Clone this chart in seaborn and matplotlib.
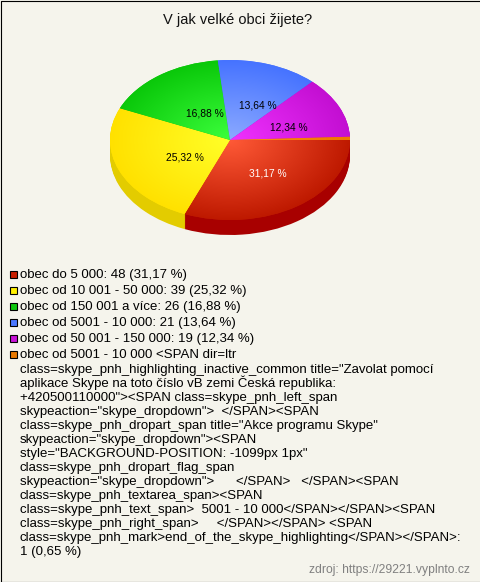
import numpy as np
import seaborn as sns
import matplotlib.pyplot as plt
from matplotlib.patches import Rectangle

title = "V jak velké obci žijete?"
source = "zdroj: https://29221.vyplnto.cz"

categories = [
    "obec do 5 000",
    "obec od 10 001 - 50 000",
    "obec od 150 001 a více",
    "obec od 5001 - 10 000",
    "obec od 50 001 - 150 000",
]
counts = [48, 39, 26, 21, 19, 1]
percents = ["31,17 %", "25,32 %", "16,88 %", "13,64 %", "12,34 %", "0,65 %"]

# the last answer is a broken html string, wrapped like in the original
long_label = [
    'obec od 5001 - 10 000 <SPAN dir=ltr',
    'class=skype_pnh_highlighting_inactive_common title="Zavolat pomocí',
    'aplikace Skype na toto číslo vB zemi Česká republika:',
    '+420500110000"><SPAN class=skype_pnh_left_span',
    'skypeaction="skype_dropdown">  </SPAN><SPAN',
    'class=skype_pnh_dropart_span title="Akce programu Skype"',
    'skypeaction="skype_dropdown"><SPAN',
    'style="BACKGROUND-POSITION: -1099px 1px"',
    'class=skype_pnh_dropart_flag_span',
    'skypeaction="skype_dropdown">      </SPAN>   </SPAN><SPAN',
    'class=skype_pnh_textarea_span><SPAN',
    'class=skype_pnh_text_span>  5001 - 10 000</SPAN></SPAN><SPAN',
    'class=skype_pnh_right_span>     </SPAN></SPAN> <SPAN',
    'class=skype_pnh_mark>end_of_the_skype_highlighting</SPAN></SPAN>:',
    '1 (0,65 %)',
]

BG = "#F5F4EC"
SWATCH = ["#C81E00", "#FFF000", "#0FC80F", "#4B78FF", "#C814D7", "#E87800"]
INNER = ["#FF5A37", "#FFFF28", "#3CFF3C", "#8CAAFF", "#F032FF", "#FF8C14"]
OUTER = ["#BE1900", "#FFE100", "#0AC80A", "#4673FF", "#C30FD2", "#F07800"]
SIDE = ["#A80000", "#E3CC00", "#0A9000", "#3050C0", "#900090", "#C06000"]

# pie geometry in pixels
CX, CY = 230, 140
RX, RY = 120, 80
DEPTH = 15


def draw_pie(ax):
    # side wall, stacked copies of the pie going down
    for k in range(DEPTH, 0, -1):
        ax.pie(counts, colors=SIDE, startangle=0, counterclock=False,
               center=(0, -k / RY), radius=1, wedgeprops={"linewidth": 0})

    wedges, _ = ax.pie(counts, colors=OUTER, startangle=0, counterclock=False,
                       center=(0, 0), radius=1, wedgeprops={"linewidth": 0})

    # radial shading on every slice
    u, v = np.meshgrid(np.linspace(-1, 1, 400), np.linspace(-1, 1, 400))
    r = np.sqrt(u ** 2 + v ** 2)
    for wedge, inner, outer in zip(wedges, INNER, OUTER):
        cmap = sns.blend_palette([inner, outer], as_cmap=True)
        im = ax.imshow(r, extent=(-1, 1, -1, 1), origin="lower", cmap=cmap,
                       vmin=0, vmax=1, aspect="auto", zorder=3)
        im.set_clip_path(wedge)

    ax.set_aspect("auto")
    ax.set_xlim(-CX / RX, (480 - CX) / RX)
    ax.set_ylim((CY - 582) / RY, CY / RY)
    ax.axis("off")


def draw_texts(ax):
    ax.set_xlim(0, 480)
    ax.set_ylim(582, 0)
    ax.axis("off")
    ax.patch.set_alpha(0)

    ax.text(237.5, 24, title, ha="center", va="baseline", fontsize=10.5, color="#111111")

    # percent labels, the small orange slice has none
    label_pos = [(267.5, 176), (184.5, 161), (205, 117), (257.5, 109), (289, 130)]
    for (x, y), pct, color in zip(label_pos, percents, ["white"] + ["black"] * 4):
        ax.text(x, y, pct, ha="center", va="baseline", fontsize=7.4, color=color)

    rows = [f"{c}: {n} ({p})" for c, n, p in zip(categories, counts, percents)]
    rows.append(long_label[0])
    for i, (row, color) in enumerate(zip(rows, SWATCH)):
        y = 278 + 16 * i
        ax.add_patch(Rectangle((9.5, y - 7.5), 7, 7, facecolor=color,
                               edgecolor="black", linewidth=0.8))
        ax.text(20, y, row, ha="left", va="baseline", fontsize=9.55, color="black")
    for i, row in enumerate(long_label[1:]):
        ax.text(20, 373 + 14 * i, row, ha="left", va="baseline", fontsize=9.55, color="black")

    ax.text(470, 573, source, ha="right", va="baseline", fontsize=8.7, color="#808080")

    # frame: top, left and bottom only
    ax.plot([480, 0.5, 0.5, 480], [0.5, 0.5, 581.5, 581.5], color="black", linewidth=0.8)


def main():
    sns.set_theme(style="white")
    plt.rcParams["font.family"] = ["Liberation Sans", "DejaVu Sans"]

    fig = plt.figure(figsize=(4.8, 5.82), dpi=100, facecolor=BG)
    ax = fig.add_axes([0, 0, 1, 1])
    draw_pie(ax)

    overlay = fig.add_axes([0, 0, 1, 1])
    draw_texts(overlay)

    fig.savefig("out.png", dpi=100, facecolor=BG)


if __name__ == "__main__":
    main()
